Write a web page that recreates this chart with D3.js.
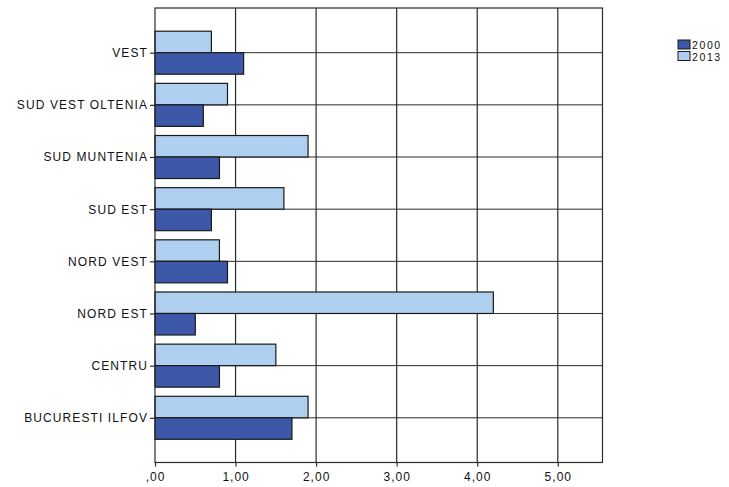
<!DOCTYPE html>
<html>
<head>
<meta charset="utf-8">
<script src="https://cdn.jsdelivr.net/npm/d3@7"></script>
<style>
  html, body { margin: 0; padding: 0; background: #fff; }
  svg { display: block; }
  text { font-family: "Liberation Sans", Arial, sans-serif; fill: #111; }
</style>
</head>
<body>
<svg id="chart" width="729" height="487"></svg>
<script>
const categories = ["VEST", "SUD VEST OLTENIA", "SUD MUNTENIA", "SUD EST", "NORD VEST", "NORD EST", "CENTRU", "BUCURESTI ILFOV"];
const series2000 = [1.10, 0.60, 0.80, 0.70, 0.90, 0.50, 0.80, 1.70];
const series2013 = [0.70, 0.90, 1.90, 1.60, 0.80, 4.20, 1.50, 1.90];
const seriesNames = ["2000", "2013"];
const xTickValues = [0, 1, 2, 3, 4, 5];
const xTickLabels = [",00", "1,00", "2,00", "3,00", "4,00", "5,00"];
const xMax = 5.555;

const colors = { "2000": "#3d57a9", "2013": "#aecff0" };

const svg = d3.select("#chart");
const pLeft = 155, pRight = 602.5, pTop = 8, pBottom = 462.5;

const x = d3.scaleLinear().domain([0, xMax]).range([pLeft, pRight]);
const y = d3.scalePoint().domain(categories).range([pTop, pBottom]).padding(0.857);
const barH = 21.5;

// vertical grid lines
svg.append("g").selectAll("line").data(xTickValues.filter(d => d > 0)).join("line")
  .attr("x1", d => x(d)).attr("x2", d => x(d))
  .attr("y1", pTop).attr("y2", pBottom)
  .attr("stroke", "#2a2a2a").attr("stroke-width", 1.2);

// horizontal grid lines at category centres
svg.append("g").selectAll("line").data(categories).join("line")
  .attr("x1", pLeft).attr("x2", pRight)
  .attr("y1", d => y(d)).attr("y2", d => y(d))
  .attr("stroke", "#2a2a2a").attr("stroke-width", 1);

// bars
const rows = categories.map((c, i) => ({ c, v2000: series2000[i], v2013: series2013[i] }));
const g = svg.append("g");
g.selectAll("rect.s2013").data(rows).join("rect")
  .attr("class", "s2013")
  .attr("x", x(0)).attr("y", d => y(d.c) - barH)
  .attr("width", d => x(d.v2013) - x(0)).attr("height", barH)
  .attr("fill", colors["2013"]).attr("stroke", "#1a1a1a").attr("stroke-width", 1.2);
g.selectAll("rect.s2000").data(rows).join("rect")
  .attr("class", "s2000")
  .attr("x", x(0)).attr("y", d => y(d.c))
  .attr("width", d => x(d.v2000) - x(0)).attr("height", barH)
  .attr("fill", colors["2000"]).attr("stroke", "#1a1a1a").attr("stroke-width", 1.2);

// frame
svg.append("rect").attr("x", pLeft).attr("y", pTop)
  .attr("width", pRight - pLeft).attr("height", pBottom - pTop)
  .attr("fill", "none").attr("stroke", "#2a2a2a").attr("stroke-width", 1.2);

// x axis
const xAxis = d3.axisBottom(x).tickValues(xTickValues)
  .tickFormat((d, i) => xTickLabels[i]).tickSize(4).tickPadding(6);
const gx = svg.append("g").attr("transform", `translate(0,${pBottom})`).call(xAxis);
gx.select(".domain").remove();
gx.selectAll(".tick line").attr("stroke", "#2a2a2a").attr("stroke-width", 1.2);
gx.selectAll(".tick text").attr("font-size", 12).attr("fill", "#111")
  .attr("letter-spacing", "1px")
  .attr("font-family", "Liberation Sans, Arial, sans-serif");

// y axis
const yAxis = d3.axisLeft(y).tickSize(5).tickPadding(2);
const gy = svg.append("g").attr("transform", `translate(${pLeft},0)`).call(yAxis);
gy.select(".domain").remove();
gy.selectAll(".tick line").attr("stroke", "#2a2a2a").attr("stroke-width", 1.2);
gy.selectAll(".tick text").attr("font-size", 12).attr("fill", "#111")
  .attr("letter-spacing", "1.1px")
  .attr("font-family", "Liberation Sans, Arial, sans-serif");

// legend
const legend = svg.append("g").attr("transform", "translate(678,40)");
seriesNames.forEach((s, i) => {
  const row = legend.append("g").attr("transform", `translate(0,${i * 11.5})`);
  row.append("rect").attr("width", 12).attr("height", 9)
    .attr("fill", colors[s]).attr("stroke", "#1a1a1a").attr("stroke-width", 1);
  row.append("text").attr("x", 14).attr("y", 9).attr("font-size", 10.5)
    .attr("letter-spacing", "1.6px").text(s);
});
</script>
</body>
</html>
